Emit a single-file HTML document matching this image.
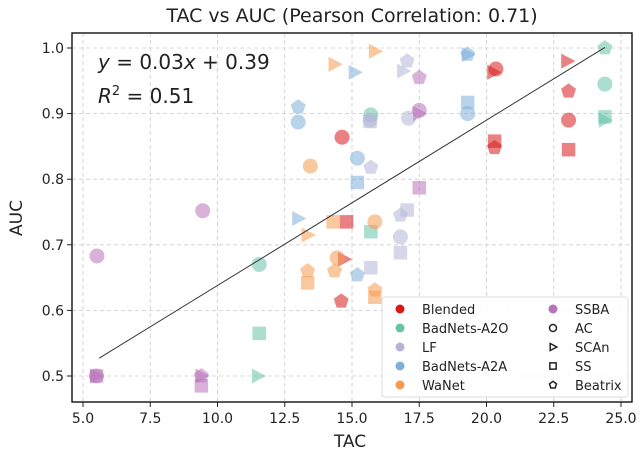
<!DOCTYPE html>
<html><head><meta charset="utf-8"><style>
body{margin:0;background:#fff;width:640px;height:456px;overflow:hidden}
svg{font-family:"DejaVu Sans","Liberation Sans",sans-serif}
</style></head><body>
<svg id="chart" width="640" height="456" xmlns="http://www.w3.org/2000/svg">
<text x="352" y="22" text-anchor="middle" font-size="19" fill="#222">TAC vs AUC (Pearson Correlation: 0.71)</text>
<g id="grid"></g><g id="marks"></g><g id="axes"></g>
<text x="350" y="447" text-anchor="middle" font-size="17" fill="#222">TAC</text>
<text transform="translate(22,218) rotate(-90)" text-anchor="middle" font-size="17" fill="#222">AUC</text>
<text x="98" y="69" font-size="20" fill="#222"><tspan font-style="italic">y</tspan> = 0.03<tspan font-style="italic">x</tspan> + 0.39</text>
<text x="98" y="103" font-size="20" fill="#222"><tspan font-style="italic">R</tspan><tspan dy="-8" font-size="13">2</tspan><tspan dy="8"> = 0.51</tspan></text>
<g id="legend"></g>
</svg>
<script>
const xTicks=[5.0,7.5,10.0,12.5,15.0,17.5,20.0,22.5,25.0];
const yTicks=[0.5,0.6,0.7,0.8,0.9,1.0];
const methods=["Blended","BadNets-A2O","LF","BadNets-A2A","WaNet","SSBA"];
const colors=["#d7191c","#66c2a5","#b4b4d8","#7fafd8","#f59a50","#b873ba"];
const shapes=["AC","SCAn","SS","Beatrix"];
const ptMethod=[0,0,0,0,0,0,0,0,0,0,0,0, 1,1,1,1,1,1,1,1,1, 2,2,2,2,2,2,2,2,2,2,2, 3,3,3,3,3,3,3,3,3,3,3, 4,4,4,4,4,4,4,4,4,4,4,4, 5,5,5,5,5,5,5,5,5,5,5,5];
const ptShape=[0,0,1,2,3,1,3,0,2,2,1,3, 3,0,2,1,0,2,0,2,1, 3,1,0,2,0,3,2,3,0,2,2, 1,1,3,2,0,3,0,0,2,1,3, 1,1,0,2,0,1,0,3,3,2,3,2, 3,0,1,2,0,0,2,1,0,3,2,1];
const tac=[14.63,20.35,20.25,20.3,20.3,23.0,23.05,23.05,23.05,14.8,14.7,14.6, 24.4,24.4,24.4,24.4,15.7,15.7,11.55,11.55,11.5, 17.05,16.9,15.67,15.67,17.1,15.7,17.05,16.8,16.8,16.8,15.7, 15.1,19.3,19.3,19.3,19.3,13.0,13.0,15.2,15.2,13.0,15.2, 15.85,14.35,13.45,14.3,15.85,13.35,14.45,14.35,13.35,13.35,15.85,15.85, 17.5,17.5,17.5,17.5,5.52,9.45,5.5,5.5,5.5,9.4,9.4,9.4];
const auc=[0.864,0.968,0.963,0.858,0.848,0.98,0.934,0.89,0.845,0.735,0.678,0.614, 1.0,0.945,0.895,0.89,0.898,0.72,0.67,0.565,0.5, 0.98,0.965,0.89,0.888,0.893,0.818,0.753,0.745,0.712,0.688,0.665, 0.963,0.99,0.99,0.917,0.9,0.91,0.887,0.832,0.795,0.74,0.654, 0.995,0.975,0.82,0.735,0.735,0.715,0.68,0.66,0.66,0.642,0.631,0.62, 0.955,0.905,0.9,0.787,0.683,0.752,0.5,0.5,0.5,0.5,0.485,0.5];
const slope=0.0252, intercept=0.386, fitRange=[5.6,24.4];
const NS="http://www.w3.org/2000/svg";
const L=72,R=632,T=33,B=402;
const X=v=>83+(v-5)*26.9;
const Y=v=>376-(v-0.5)*656;
function mk(t,a,p){const e=document.createElementNS(NS,t);for(const k in a)e.setAttribute(k,a[k]);p.appendChild(e);return e;}
const grid=document.getElementById('grid'),axes=document.getElementById('axes'),marks=document.getElementById('marks'),leg=document.getElementById('legend');
xTicks.forEach(t=>{
 const g=mk('line',{x1:X(t),x2:X(t),y1:T,y2:B,stroke:'#ccc','stroke-dasharray':'4,3','stroke-width':0.8},grid);
 
 mk('line',{x1:X(t),x2:X(t),y1:B,y2:B+5,stroke:'#222'},axes);
 const tx=mk('text',{x:X(t),y:B+21,'text-anchor':'middle','font-size':14,fill:'#222'},axes);tx.textContent=t.toFixed(1);
 
});
yTicks.forEach(t=>{
 const g=mk('line',{x1:L,x2:R,y1:Y(t),y2:Y(t),stroke:'#ccc','stroke-dasharray':'4,3','stroke-width':0.8},grid);
 
 mk('line',{x1:L-5,x2:L,y1:Y(t),y2:Y(t),stroke:'#222'},axes);
 const tx=mk('text',{x:L-8,y:Y(t)+5,'text-anchor':'end','font-size':14,fill:'#222'},axes);tx.textContent=t.toFixed(1);
 
});
const frame=mk('rect',{x:L,y:T,width:R-L,height:B-T,fill:'none',stroke:'#111','stroke-width':1.4},axes);

function shape(s,cx,cy,r,attrs,parent){
 let e;
 if(s===0)e=mk('circle',Object.assign({cx,cy,r},attrs),parent);
 else if(s===1)e=mk('polygon',Object.assign({points:`${cx-r*0.8},${cy-r} ${cx-r*0.8},${cy+r} ${cx+r*1.1},${cy}`},attrs),parent);
 else if(s===2)e=mk('rect',Object.assign({x:cx-r*0.9,y:cy-r*0.9,width:r*1.8,height:r*1.8},attrs),parent);
 else{let p=[];for(let i=0;i<5;i++){const a=-Math.PI/2+i*2*Math.PI/5;p.push((cx+r*1.05*Math.cos(a))+','+(cy+r*1.05*Math.sin(a)));}
  e=mk('polygon',Object.assign({points:p.join(' ')},attrs),parent);}
 return e;
}
tac.forEach((v,i)=>{
 const e=shape(ptShape[i],X(v),Y(auc[i]),7.5,{fill:colors[ptMethod[i]],'fill-opacity':0.55},marks);
 
 
});
const fl=mk('line',{x1:X(fitRange[0]),y1:Y(slope*fitRange[0]+intercept),x2:X(fitRange[1]),y2:Y(slope*fitRange[1]+intercept),stroke:'#333','stroke-width':1},marks);

const lb=mk('rect',{x:382,y:297,width:246,height:100,rx:3,fill:'#fff','fill-opacity':0.85,stroke:'#ddd'},leg);

methods.forEach((m,i)=>{
 const col=i<5?0:1,row=i<5?i:0;
 const x=col?553:400,y=309+row*19;
 const c=mk('circle',{cx:x,cy:y,r:4.5,fill:colors[i]},leg);
 
 const t=mk('text',{x:x+22,y:y+5,'font-size':13,fill:'#222'},leg);t.textContent=m;
 
});
shapes.forEach((s,i)=>{
 const x=553,y=328+i*19;
 const e=shape(i,x,y,3.5,{fill:'none',stroke:'#222','stroke-width':1.5},leg);
 
 const t=mk('text',{x:x+22,y:y+5,'font-size':13,fill:'#222'},leg);t.textContent=s;
 
});
</script>
</body></html>
